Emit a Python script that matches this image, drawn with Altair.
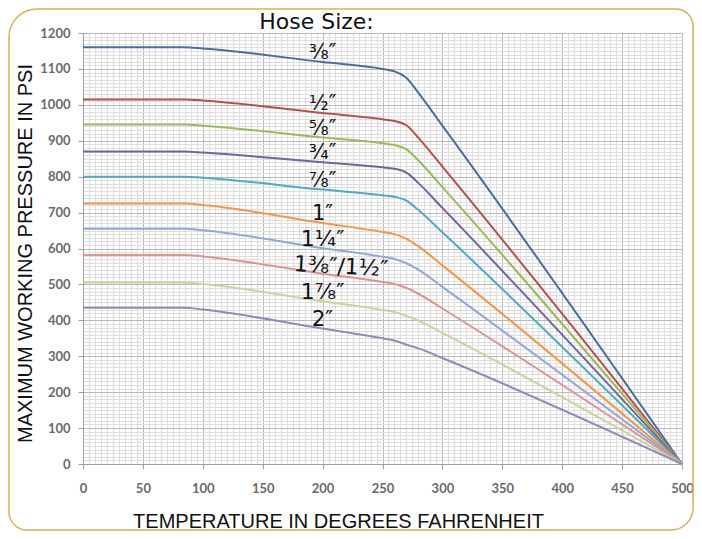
import altair as alt
import pandas as pd

# ---- data ----
temps = [0, 85, 100, 200, 250, 260, 270, 280, 300, 500]
sizes = ["3/8", "1/2", "5/8", "3/4", "7/8", "1", "1 1/4", "1 3/8/1 1/2", "1 7/8", "2"]
labels = ["³⁄₈″", "¹⁄₂″", "⁵⁄₈″", "³⁄₄″", "⁷⁄₈″", "1″", "1¹⁄₄″", "1³⁄₈″/1¹⁄₂″", "1⁷⁄₈″", "2″"]
colors = ["#4a6f9e", "#b9504d", "#9bbb59", "#7562a0", "#4bacc6",
          "#f79646", "#95a6d8", "#d99694", "#c3d69b", "#9488bd"]

p_38 = [1160, 1160, 1157, 1119, 1100, 1093, 1075, 1033, 942, 0]
p_12 = [1015, 1015, 1012, 977, 960, 955, 943, 908, 828, 0]
p_58 = [945, 945, 942, 909, 893, 888, 876, 845, 771, 0]
p_34 = [870, 870, 867, 840, 826, 822, 811, 782, 713, 0]
p_78 = [800, 800, 797, 764, 748, 744, 733, 707, 645, 0]
p_1 = [725, 725, 721, 671, 646, 640, 627, 606, 553, 0]
p_114 = [655, 655, 651, 601, 577, 571, 559, 541, 493, 0]
p_138 = [582, 582, 578, 530, 507, 501, 490, 474, 433, 0]
p_178 = [505, 505, 501, 453, 429, 423, 412, 399, 365, 0]
p_2 = [435, 435, 430, 377, 350, 344, 332, 322, 295, 0]
series = [p_38, p_12, p_58, p_34, p_78, p_1, p_114, p_138, p_178, p_2]

label_temp = 200
x_ticks = list(range(0, 501, 5))
y_ticks = list(range(0, 1201, 10))

rows = []
for name, lab, vals in zip(sizes, labels, series):
    for t, p in zip(temps, vals):
        rows.append({"size": name, "label": lab, "temp": t, "psi": p})
df = pd.DataFrame(rows)


def cond(test, a, b):
    return {"condition": {"test": test, "value": a}, "value": b}


x_axis = alt.Axis(
    values=x_ticks,
    format="d",
    title="TEMPERATURE IN DEGREES FAHRENHEIT",
    grid=True,
    gridColor=cond("datum.value % 50 === 0", "#bababa", "#dedede"),
    gridWidth=1,
    tickColor=cond("datum.value % 50 === 0", "#a0a0a0", "transparent"),
    tickSize=5,
    domainColor="#a0a0a0",
    labelExpr="datum.value % 50 === 0 ? datum.label : ''",
    labelOverlap=False,
    labelFlush=False,
    labelFont="Lato",
    labelFontSize=13,
    labelFontWeight="bold",
    labelColor="#6a6a6a",
    labelPadding=13,
    titleFont="Liberation Sans",
    titleFontSize=20,
    titleFontWeight="normal",
    titleColor="#111111",
    titleX=255,
    titleY=57,
    titleAlign="center",
    titleBaseline="middle",
)

y_axis = alt.Axis(
    values=y_ticks,
    format="d",
    title="MAXIMUM WORKING PRESSURE IN PSI",
    grid=True,
    gridColor=cond("datum.value % 100 === 0", "#bababa", "#dedede"),
    gridWidth=1,
    tickColor=cond("datum.value % 100 === 0", "#a0a0a0", "transparent"),
    tickSize=5,
    domainColor="#a0a0a0",
    labelExpr="datum.value % 100 === 0 ? datum.label : ''",
    labelOverlap=False,
    labelFlush=False,
    labelFont="Lato",
    labelFontSize=13,
    labelFontWeight="bold",
    labelColor="#6a6a6a",
    labelPadding=8,
    titleFont="Liberation Sans",
    titleFontSize=20,
    titleFontWeight="normal",
    titleColor="#111111",
    titleAngle=270,
    titleX=-58,
    titleY=220,
    titleAlign="center",
    titleBaseline="middle",
)

x_enc = alt.X("temp:Q", scale=alt.Scale(domain=[0, 500], nice=False), axis=x_axis)
y_enc = alt.Y("psi:Q", scale=alt.Scale(domain=[0, 1200], nice=False), axis=y_axis)

base = alt.Chart(df)

lines = base.mark_line(strokeWidth=2, interpolate="monotone").encode(
    x=x_enc,
    y=y_enc,
    color=alt.Color("size:N", scale=alt.Scale(domain=sizes, range=colors), legend=None),
    detail="size:N",
)

label_size = {
    "condition": [
        {"test": "datum.label === '1″' || datum.label === '2″'", "value": 21},
        {"test": "indexof(datum.label, '1') === 0", "value": 22},
    ],
    "value": 20.5,
}

long_name = "1 3/8/1 1/2"
curve_labels = base.transform_filter(
    f"datum.temp === {label_temp} && datum.size !== '{long_name}'"
).mark_text(font="DejaVu Sans", color="#111111", dy=-9, align="center",
            baseline="middle").encode(x=x_enc, y=y_enc, text="label:N", size=label_size)

long_label = base.transform_filter(
    f"datum.temp === {label_temp} && datum.size === '{long_name}'"
).mark_text(font="DejaVu Sans", fontSize=22, color="#111111", dy=-8, dx=18, angle=3,
            align="center", baseline="middle").encode(x=x_enc, y=y_enc, text="label:N")

one = alt.Chart(pd.DataFrame({"k": [0]}))

frame = one.mark_rect(
    fillOpacity=0, stroke="#d6b452", strokeWidth=1.5,
    cornerRadiusTopLeft=28, cornerRadiusTopRight=17,
    cornerRadiusBottomLeft=18, cornerRadiusBottomRight=22,
).encode(x=alt.value(-74), x2=alt.value(610), y=alt.value(-24), y2=alt.value(497))

title = one.mark_text(
    font="DejaVu Sans", fontSize=22, color="#111111", align="center", baseline="alphabetic"
).encode(x=alt.value(233.5), y=alt.value(-4), text=alt.value("Hose Size:"))

chart = alt.layer(frame, lines, curve_labels, long_label, title).properties(
    width=599,
    height=431,
    padding={"left": 75, "top": 25, "right": 12, "bottom": 67},
    autosize=alt.AutoSizeParams(type="none"),
    background="white",
).configure_view(stroke=None)

chart.save("out.html", embed_options={"renderer": "svg", "actions": False})
